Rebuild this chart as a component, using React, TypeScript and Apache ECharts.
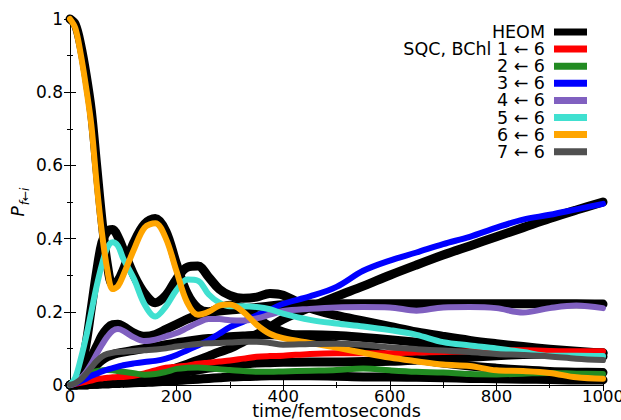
import React, { useEffect, useRef } from "react";
import * as echarts from "echarts";

// time grid (fs)
const T = [0,10,20,30,40,50,60,70,80,90,100,120,140,160,180,200,220,240,260,280,300,325,350,375,400,450,500,550,600,650,700,750,800,850,900,950,1000];

// HEOM populations (black)
const H1 = [0,0,0.001,0.001,0.002,0.003,0.004,0.005,0.006,0.007,0.009,0.013,0.017,0.021,0.026,0.031,0.036,0.041,0.046,0.05,0.054,0.057,0.06,0.061,0.062,0.063,0.063,0.064,0.065,0.068,0.072,0.076,0.08,0.083,0.085,0.087,0.088];
const H2 = [0,0,0.001,0.001,0.002,0.002,0.003,0.003,0.004,0.004,0.005,0.006,0.007,0.008,0.01,0.012,0.014,0.016,0.018,0.02,0.022,0.023,0.024,0.025,0.025,0.025,0.024,0.022,0.022,0.021,0.02,0.018,0.017,0.016,0.015,0.014,0.014];
const H3 = [0,0,0.001,0.001,0.002,0.003,0.004,0.006,0.008,0.01,0.012,0.017,0.023,0.03,0.038,0.047,0.057,0.068,0.079,0.09,0.1,0.118,0.138,0.158,0.18,0.212,0.242,0.27,0.3,0.328,0.355,0.38,0.405,0.43,0.455,0.478,0.5];
const H4 = [0,0.005,0.02,0.045,0.075,0.105,0.135,0.155,0.165,0.166,0.16,0.142,0.133,0.138,0.152,0.166,0.18,0.191,0.198,0.202,0.205,0.208,0.212,0.216,0.219,0.221,0.222,0.222,0.222,0.222,0.222,0.222,0.222,0.222,0.222,0.222,0.221];
const H5 = [0,0.005,0.04,0.11,0.21,0.31,0.39,0.42,0.425,0.405,0.37,0.3,0.25,0.225,0.245,0.29,0.322,0.325,0.295,0.262,0.245,0.237,0.24,0.25,0.245,0.21,0.19,0.175,0.16,0.145,0.133,0.122,0.113,0.105,0.098,0.092,0.087];
const H6 = [1,0.985,0.93,0.85,0.75,0.6,0.45,0.33,0.275,0.285,0.315,0.39,0.44,0.455,0.42,0.33,0.25,0.21,0.2,0.21,0.218,0.21,0.185,0.16,0.145,0.125,0.11,0.095,0.08,0.07,0.06,0.052,0.046,0.041,0.037,0.035,0.034];
const H7 = [0,0.003,0.012,0.025,0.04,0.055,0.068,0.077,0.083,0.087,0.09,0.095,0.1,0.105,0.11,0.115,0.12,0.124,0.127,0.129,0.132,0.134,0.136,0.137,0.137,0.137,0.135,0.13,0.124,0.117,0.11,0.103,0.097,0.092,0.087,0.082,0.078];

// SQC populations (coloured)
const S1 = [0,0.003,0.006,0.009,0.012,0.016,0.018,0.02,0.021,0.022,0.022,0.025,0.032,0.04,0.047,0.05,0.053,0.058,0.061,0.064,0.067,0.072,0.077,0.079,0.08,0.085,0.087,0.087,0.087,0.089,0.09,0.092,0.096,0.095,0.093,0.092,0.092];
const S2 = [0,0.008,0.018,0.028,0.034,0.038,0.04,0.041,0.04,0.038,0.036,0.032,0.028,0.03,0.036,0.044,0.047,0.048,0.046,0.043,0.041,0.038,0.036,0.036,0.037,0.039,0.041,0.045,0.04,0.036,0.034,0.03,0.029,0.031,0.033,0.031,0.03];
const S3 = [0,0.004,0.01,0.017,0.025,0.031,0.037,0.042,0.046,0.05,0.054,0.059,0.063,0.066,0.072,0.082,0.095,0.108,0.122,0.14,0.158,0.173,0.19,0.205,0.222,0.242,0.268,0.312,0.34,0.362,0.385,0.405,0.43,0.452,0.465,0.48,0.495];
const S4 = [0,0.005,0.018,0.035,0.058,0.085,0.11,0.132,0.148,0.153,0.148,0.13,0.12,0.124,0.133,0.142,0.156,0.17,0.18,0.18,0.177,0.176,0.182,0.192,0.202,0.208,0.212,0.213,0.212,0.203,0.212,0.213,0.21,0.198,0.21,0.217,0.21];
const S5 = [0,0.02,0.07,0.13,0.2,0.27,0.33,0.375,0.39,0.38,0.345,0.29,0.22,0.187,0.215,0.26,0.288,0.285,0.248,0.225,0.215,0.215,0.213,0.207,0.195,0.178,0.168,0.16,0.15,0.137,0.117,0.108,0.1,0.09,0.08,0.08,0.079];
const S6 = [1,0.975,0.905,0.815,0.71,0.55,0.415,0.315,0.262,0.27,0.3,0.37,0.43,0.442,0.4,0.31,0.225,0.192,0.2,0.217,0.22,0.2,0.165,0.14,0.128,0.115,0.102,0.088,0.075,0.065,0.056,0.052,0.04,0.038,0.033,0.021,0.017];
const S7 = [0,0.005,0.015,0.03,0.048,0.065,0.078,0.085,0.088,0.09,0.091,0.093,0.095,0.097,0.1,0.105,0.109,0.112,0.114,0.115,0.116,0.118,0.118,0.115,0.11,0.112,0.113,0.11,0.103,0.098,0.094,0.09,0.085,0.082,0.078,0.072,0.068];

const HEOM = [H1, H2, H3, H4, H5, H6, H7];
const SQC = [S1, S2, S3, S4, S5, S6, S7];
const SQC_COLORS = ["#ff0000", "#228b22", "#0000ff", "#8060c0", "#40e0d0", "#ffa500", "#505050"];
const LEGEND_LABELS = ["HEOM", "SQC, BChl 1 \u2190 6", "2 \u2190 6", "3 \u2190 6", "4 \u2190 6", "5 \u2190 6", "6 \u2190 6", "7 \u2190 6"];
const LEGEND_COLORS = ["#000000", ...SQC_COLORS];

const X_TICKS = [0, 200, 400, 600, 800, 1000];
const Y_TICKS = [0, 0.2, 0.4, 0.6, 0.8, 1];

const FONT = "DejaVu Sans";

export default function App() {
  const ref = useRef<HTMLDivElement>(null);
  useEffect(() => {
    if (!ref.current) return;
    document.body.style.margin = "0";
    const chart = echarts.init(ref.current, null, { renderer: "svg" });
    const tickCommon = {
      axisLine: { show: true, lineStyle: { color: "#000", width: 1 } },
      axisTick: { show: true, inside: true, length: 6, lineStyle: { color: "#000", width: 1 } },
      minorTick: { show: true, splitNumber: 2, length: 3, lineStyle: { color: "#000", width: 1 } },
      splitLine: { show: false },
    };
    const xBase = { type: "value", min: X_TICKS[0], max: X_TICKS[X_TICKS.length - 1], interval: X_TICKS[1] - X_TICKS[0], ...tickCommon };
    const yBase = { type: "value", min: Y_TICKS[0], max: Y_TICKS[Y_TICKS.length - 1], interval: Y_TICKS[1] - Y_TICKS[0], ...tickCommon };

    const series: any[] = [];
    HEOM.forEach((h, i) => {
      series.push({
        name: "HEOM " + (i + 1),
        type: "line",
        data: T.map((t, j) => [t, h[j]]),
        symbol: "none",
        smooth: 0.35,
        clip: false,
        lineStyle: { color: "#000", width: 9, cap: "round", join: "round" },
        z: 2,
      });
    });
    SQC.forEach((s, i) => {
      series.push({
        name: "SQC " + (i + 1),
        type: "line",
        data: T.map((t, j) => [t, s[j]]),
        symbol: "none",
        smooth: 0.35,
        clip: false,
        lineStyle: { color: SQC_COLORS[i], width: 6, cap: "round", join: "round" },
        z: 3,
      });
    });

    const legendGraphics: any[] = [];
    LEGEND_LABELS.forEach((lab, i) => {
      const y = 32 + i * 17.1;
      legendGraphics.push({
        type: "text",
        x: 545,
        y,
        z: 10,
        style: { text: lab, fill: "#000", fontSize: 17.5, fontFamily: FONT, lineHeight: 17, align: "right", verticalAlign: "middle" },
      });
      legendGraphics.push({
        type: "rect",
        z: 10,
        shape: { x: 554, y: y - 3.5, width: 33, height: 7 },
        style: { fill: LEGEND_COLORS[i] },
      });
    });

    const option: any = {
      animation: false,
      grid: { left: 70, top: 19, right: 18, bottom: 35, containLabel: false, outerBoundsMode: "none" },
      xAxis: [
        {
          ...xBase,
          position: "bottom",
          axisLabel: { color: "#000", fontSize: 16.5, fontFamily: FONT, margin: 4, lineHeight: 15, formatter: (v: number) => String(v) },
          name: "time/femtoseconds",
          nameLocation: "middle",
          nameGap: 18,
          nameMoveOverlap: false,
          nameTextStyle: { color: "#000", fontSize: 17.5, fontFamily: FONT, lineHeight: 15 },
        },
        { ...xBase, position: "top", axisLabel: { show: false } },
      ],
      yAxis: [
        {
          ...yBase,
          position: "left",
          axisLabel: { color: "#000", fontSize: 17, fontFamily: FONT, margin: 7, formatter: (v: number) => String(v) },
        },
        { ...yBase, position: "right", axisLabel: { show: false } },
      ],
      series,
      graphic: [
        {
          type: "text",
          x: 20,
          y: 202,
          rotation: Math.PI / 2,
          style: {
            text: "{a|P}{b|f\u2190i}",
            align: "center",
            verticalAlign: "middle",
            fill: "#000",
            rich: {
              a: { fontSize: 17, fontStyle: "italic", fontFamily: FONT, verticalAlign: "top", lineHeight: 22 },
              b: { fontSize: 12, fontStyle: "italic", fontFamily: FONT, verticalAlign: "bottom", lineHeight: 22, padding: [0, 0, 0, 1] },
            },
          },
        },
        ...legendGraphics,
      ],
    };
    chart.setOption(option);
    return () => chart.dispose();
  }, []);
  return <div ref={ref} style={{ width: 621, height: 420 }} />;
}
